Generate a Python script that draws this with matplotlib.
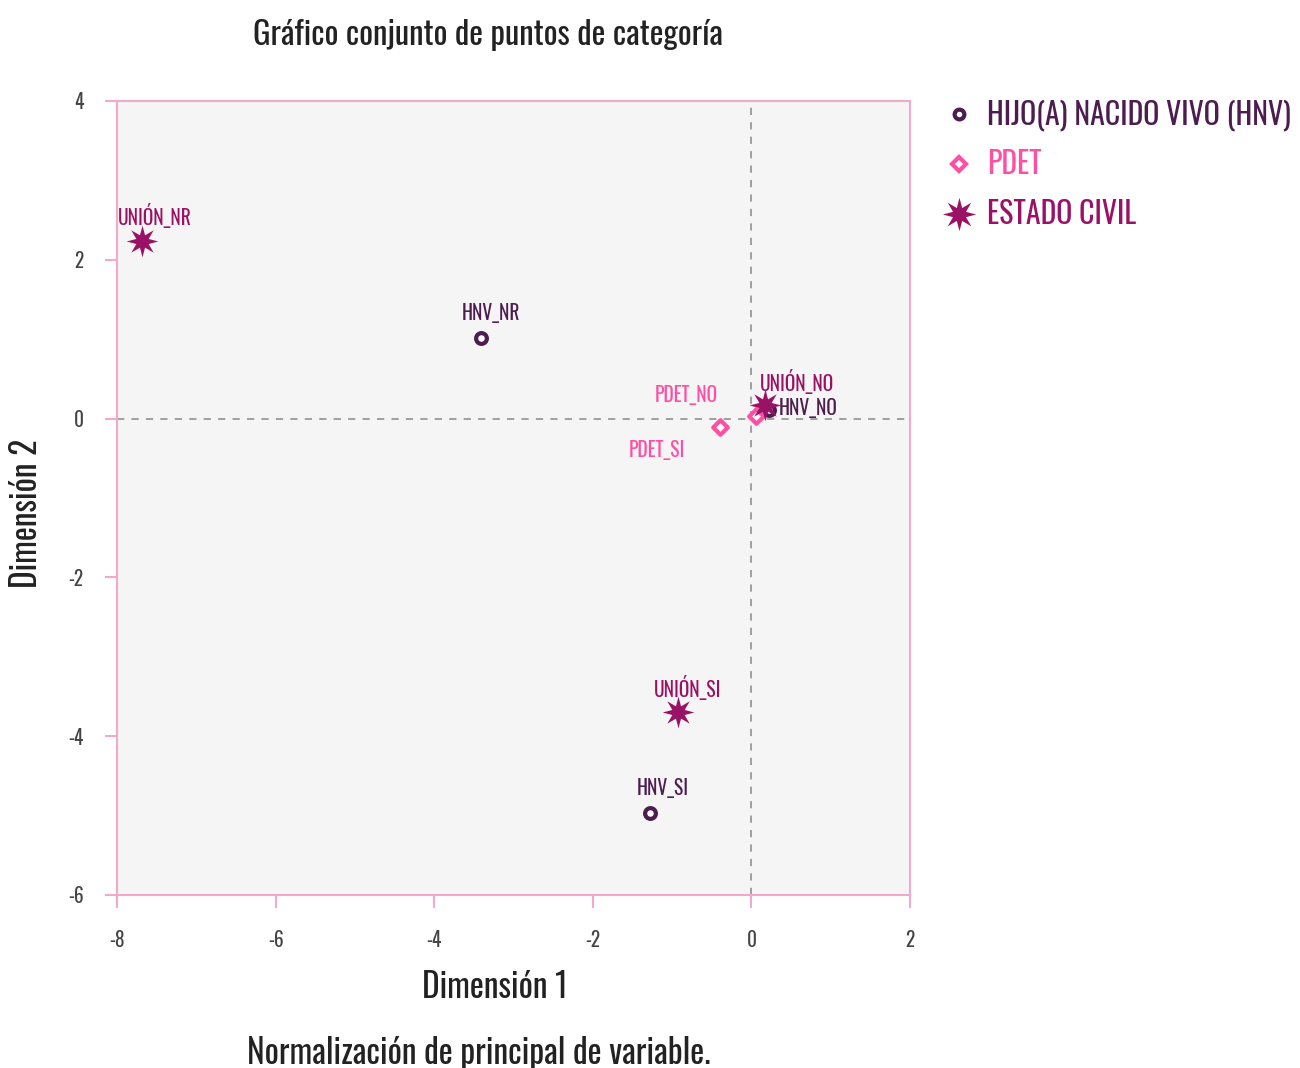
import matplotlib
matplotlib.use("Agg")
import numpy as np
import matplotlib.pyplot as plt
from matplotlib import font_manager as fm
from matplotlib.lines import Line2D
from matplotlib.path import Path

names = {f.name for f in fm.fontManager.ttflist}
pref = None
for n in ["Oswald", "Roboto Condensed", "Open Sans Condensed", "Liberation Sans Narrow"]:
    if n in names:
        pref = n
        break
if pref:
    plt.rcParams['font.family'] = [pref, 'DejaVu Sans']
else:
    plt.rcParams['font.family'] = ['DejaVu Sans']
    plt.rcParams['font.stretch'] = 'condensed'

# Data
groups = ["HIJO(A) NACIDO VIVO (HNV)", "PDET", "ESTADO CIVIL"]
hnv_labels = ["HNV_NR", "HNV_NO", "HNV_SI"]
hnv_x = [-3.41, 0.22, -1.28]
hnv_y = [1.01, 0.11, -4.97]
pdet_labels = ["PDET_NO", "PDET_SI"]
pdet_x = [0.06, -0.40]
pdet_y = [0.03, -0.11]
ec_labels = ["UNIÓN_NR", "UNIÓN_NO", "UNIÓN_SI"]
ec_x = [-7.68, 0.17, -0.93]
ec_y = [2.24, 0.17, -3.70]

xticks = [-8, -6, -4, -2, 0, 2]
yticks = [-6, -4, -2, 0, 2, 4]

C_HNV = "#4d1d4f"
C_PDET = "#ff4fa3"
C_EC = "#9a1265"
PINK = "#f4a9cb"

# spiky 8-point star marker shape
ang = np.pi / 2 + np.arange(16) * np.pi / 8
rad = np.where(np.arange(16) % 2 == 0, 1.0, 0.42)
verts = np.column_stack([rad * np.cos(ang), rad * np.sin(ang)])
verts = np.vstack([verts, verts[:1]])
star = Path(verts, closed=True)

fig = plt.figure(figsize=(13, 10.68), dpi=100)
ax = fig.add_axes([0.09, 0.162, 0.61, 0.7435])
ax.set_facecolor("#f5f5f5")
ax.set_xlim(-8, 2)
ax.set_ylim(-6, 4)

ax.axhline(0, color="#999999", ls=(0, (4, 4)), lw=1.3, zorder=1)
ax.axvline(0, color="#999999", ls=(0, (4, 4)), lw=1.3, zorder=1)

ax.scatter(hnv_x, hnv_y, marker="o", s=60, facecolors="white", edgecolors=C_HNV, linewidths=3, zorder=3)
ax.scatter(pdet_x, pdet_y, marker="D", s=55, facecolors="white", edgecolors=C_PDET, linewidths=3, zorder=3)
ax.scatter(ec_x, ec_y, marker=star, s=520, color=C_EC, linewidths=0, zorder=4)

# label offsets (points)
hnv_off = [(7, 18), (28, 1), (9, 18)]
pdet_off = [(-50, 15), (-45, -16)]
ec_off = [(9, 18), (23, 17), (7, 18)]
for lab, x, y, o in zip(hnv_labels, hnv_x, hnv_y, hnv_off):
    ax.annotate(lab, (x, y), xytext=o, textcoords="offset points", ha="center", va="center",
                color=C_HNV, fontsize=14, zorder=5)
for lab, x, y, o in zip(pdet_labels, pdet_x, pdet_y, pdet_off):
    ax.annotate(lab, (x, y), xytext=o, textcoords="offset points", ha="center", va="center",
                color=C_PDET, fontsize=14, zorder=5)
for lab, x, y, o in zip(ec_labels, ec_x, ec_y, ec_off):
    ax.annotate(lab, (x, y), xytext=o, textcoords="offset points", ha="center", va="center",
                color=C_EC, fontsize=14, zorder=5)

ax.set_xticks(xticks)
ax.set_yticks(yticks)
ax.set_xticklabels([str(t) for t in xticks])
ax.set_yticklabels([str(t) for t in yticks])
ax.tick_params(axis="both", colors=PINK, labelcolor="#444444", labelsize=14, length=9, width=1.5, pad=16)
ax.tick_params(axis="y", pad=15)
for sp in ax.spines.values():
    sp.set_color(PINK)
    sp.set_linewidth(1.5)

ax.set_xlabel("Dimensión 1", fontsize=24, color="#222222")
ax.set_ylabel("Dimensión 2", fontsize=24, color="#222222")
ax.xaxis.set_label_coords(0.477, -0.095)
ax.yaxis.set_label_coords(-0.093, 0.48)

fig.text(0.375, 0.967, "Gráfico conjunto de puntos de categoría", fontsize=23.5, color="#222222",
         ha="center", va="center")
fig.text(0.368, 0.014, "Normalización de principal de variable.", fontsize=24, color="#222222",
         ha="center", va="center")

handles = [
    Line2D([], [], marker="o", ls="none", markersize=7, markerfacecolor="white", markeredgecolor=C_HNV, markeredgewidth=3),
    Line2D([], [], marker="D", ls="none", markersize=7, markerfacecolor="white", markeredgecolor=C_PDET, markeredgewidth=3),
    Line2D([], [], marker=star, ls="none", markersize=24, color=C_EC, markeredgewidth=0),
]
leg = fig.legend(handles, groups, loc="upper left", bbox_to_anchor=(0.717, 0.918), frameon=False,
                 fontsize=21.5, handlelength=1.0, handletextpad=0.45, labelspacing=0.62, borderaxespad=0)
for t, c in zip(leg.get_texts(), [C_HNV, C_PDET, C_EC]):
    t.set_color(c)

fig.savefig("out.png", dpi=100)
